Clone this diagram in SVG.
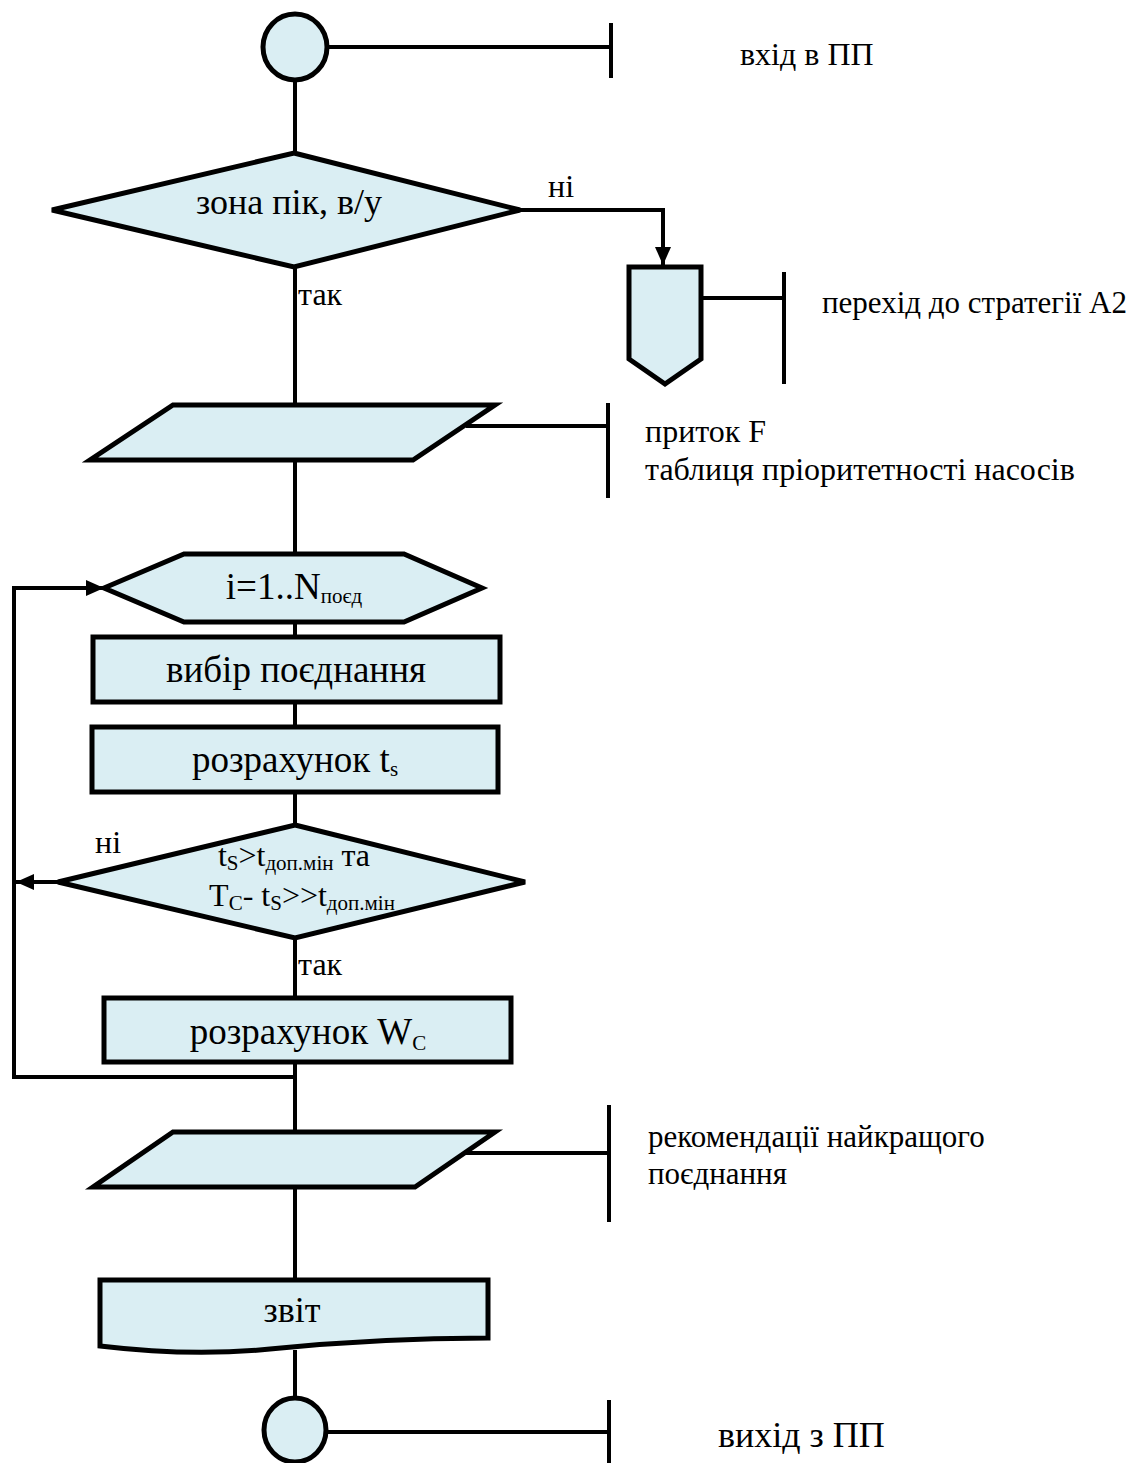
<svg xmlns="http://www.w3.org/2000/svg" width="1142" height="1463" viewBox="0 0 1142 1463">
<style>
.shape{fill:#DAEEF3;stroke:#000;stroke-width:5;stroke-linejoin:miter}
.ln{fill:none;stroke:#000;stroke-width:4}
.t{font-family:"Liberation Serif","Times New Roman",serif;fill:#000}
.lbl{font-size:31px}
.big{font-size:37px}
.mid{font-size:32px}
.sub{font-size:21px}
</style>
<defs>
<marker id="ah" markerUnits="userSpaceOnUse" markerWidth="18" markerHeight="16" refX="18" refY="8" orient="auto">
<path d="M0,0 L18,8 L0,16 Z" fill="#000"/>
</marker>
</defs>
<rect width="1142" height="1463" fill="#fff"/>

<g id="connectors">
<line class="ln" x1="327" y1="47" x2="611" y2="47"/>
<line class="ln" x1="611" y1="23" x2="611" y2="78"/>
<line class="ln" x1="295" y1="82" x2="295" y2="153"/>
<polyline class="ln" points="520,210 663,210 663,265" marker-end="url(#ah)"/>
<line class="ln" x1="703" y1="298" x2="784" y2="298"/>
<line class="ln" x1="784" y1="272" x2="784" y2="384"/>
<line class="ln" x1="295" y1="267" x2="295" y2="405"/>
<line class="ln" x1="466" y1="426" x2="608" y2="426"/>
<line class="ln" x1="608" y1="403" x2="608" y2="498"/>
<line class="ln" x1="295" y1="460" x2="295" y2="554"/>
<line class="ln" x1="295" y1="622" x2="295" y2="637"/>
<line class="ln" x1="295" y1="702" x2="295" y2="727"/>
<line class="ln" x1="295" y1="792" x2="295" y2="825"/>
<line class="ln" x1="295" y1="938" x2="295" y2="998"/>
<line class="ln" x1="58" y1="882" x2="16" y2="882" marker-end="url(#ah)"/>
<polyline class="ln" points="295,1062 295,1077 14,1077 14,588 104,588" marker-end="url(#ah)"/>
<line class="ln" x1="295" y1="1077" x2="295" y2="1132"/>
<line class="ln" x1="461" y1="1153" x2="609" y2="1153"/>
<line class="ln" x1="609" y1="1105" x2="609" y2="1222"/>
<line class="ln" x1="295" y1="1187" x2="295" y2="1280"/>
<line class="ln" x1="295" y1="1350" x2="295" y2="1398"/>
<line class="ln" x1="326" y1="1432" x2="609" y2="1432"/>
<line class="ln" x1="609" y1="1400" x2="609" y2="1463"/>
</g>

<g id="start">
<ellipse class="shape" cx="295" cy="47" rx="32" ry="33"/>
</g>
<g id="label-start"><text class="t" font-size="32" x="740" y="65">вхід в ПП</text></g>

<g id="decision1">
<polygon class="shape" points="294,153 520,210 294,267 52,210"/>
<text class="t" font-size="36" x="289" y="214" text-anchor="middle">зона пік, в/у</text>
</g>
<g id="label-no1"><text class="t mid" x="548" y="197">ні</text></g>
<g id="label-yes1"><text class="t mid" x="298" y="305">так</text></g>

<g id="offpage">
<polygon class="shape" points="629,267 701,267 701,359 665,384 629,359"/>
</g>
<g id="label-offpage"><text class="t lbl" x="822" y="313">перехід до стратегії А2</text></g>

<g id="input1">
<polygon class="shape" points="173,405 495,405 413,460 90,460"/>
</g>
<g id="label-input1">
<text class="t" font-size="32" x="645" y="442">приток F</text>
<text class="t" font-size="32" x="645" y="480">таблиця пріоритетності насосів</text>
</g>

<g id="loop">
<polygon class="shape" points="104,588 184,554 404,554 482,588 404,622 184,622"/>
<text class="t big" x="294" y="599" text-anchor="middle">i=1..N<tspan class="sub" dy="4">поєд</tspan></text>
</g>

<g id="process1">
<rect class="shape" x="93" y="637" width="407" height="65"/>
<text class="t big" x="296" y="682" text-anchor="middle">вибір поєднання</text>
</g>

<g id="process2">
<rect class="shape" x="92" y="727" width="406" height="65"/>
<text class="t big" x="295" y="772" text-anchor="middle">розрахунок t<tspan class="sub" dy="4">s</tspan></text>
</g>

<g id="decision2">
<polygon class="shape" points="295,825 525,882 295,938 58,882"/>
<text class="t mid" x="294" y="866" text-anchor="middle">t<tspan class="sub" dy="4">S</tspan><tspan dy="-4">&gt;t</tspan><tspan class="sub" dy="4">доп.мін</tspan><tspan dy="-4"> та</tspan></text>
<text class="t mid" x="302" y="906" text-anchor="middle">T<tspan class="sub" dy="4">C</tspan><tspan dy="-4">- t</tspan><tspan class="sub" dy="4">S</tspan><tspan dy="-4">&gt;&gt;t</tspan><tspan class="sub" dy="4">доп.мін</tspan></text>
</g>
<g id="label-no2"><text class="t mid" x="95" y="853">ні</text></g>
<g id="label-yes2"><text class="t mid" x="298" y="975">так</text></g>

<g id="process3">
<rect class="shape" x="104" y="998" width="407" height="64"/>
<text class="t big" x="308" y="1044" text-anchor="middle">розрахунок W<tspan class="sub" dy="6">C</tspan></text>
</g>

<g id="output1">
<polygon class="shape" points="173,1132 495,1132 415,1187 93,1187"/>
</g>
<g id="label-output1">
<text class="t lbl" x="648" y="1147">рекомендації найкращого</text>
<text class="t lbl" x="648" y="1184">поєднання</text>
</g>

<g id="document">
<path class="shape" d="M100,1280 H488 V1338 C420,1338 340,1342 270,1349 C210,1355 150,1352 100,1346 Z"/>
<text class="t" font-size="36" x="292" y="1322" text-anchor="middle">звіт</text>
</g>

<g id="end">
<ellipse class="shape" cx="295" cy="1430" rx="31" ry="32"/>
</g>
<g id="label-end"><text class="t" font-size="36" x="718" y="1447">вихід з ПП</text></g>
</svg>
